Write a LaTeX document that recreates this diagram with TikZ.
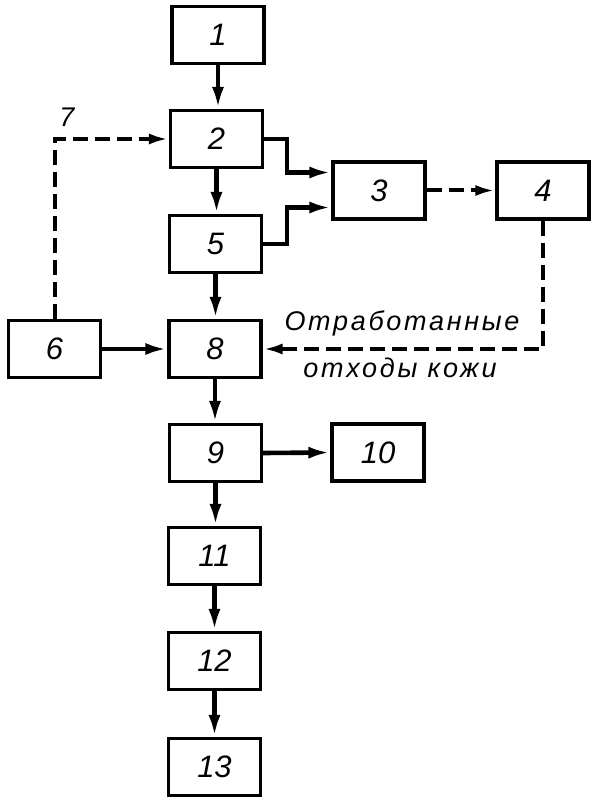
\documentclass[tikz,border=0pt]{standalone}
\usepackage{fontspec}
\setmainfont{Liberation Sans}
\usetikzlibrary{arrows.meta,calc}
\tikzset{
  blk/.style={draw, line width=3.2pt, minimum width=92pt, minimum height=57pt, inner sep=0pt, font=\fontsize{31}{33}\selectfont\itshape},
  flow/.style={line width=4.6pt, -{Latex[length=22pt,width=12pt]}},
  dflow/.style={line width=4pt, dash pattern=on 15pt off 7pt, -{Latex[length=20pt,width=11pt]}},
  lbl/.style={font=\fontsize{27}{29}\selectfont\itshape, inner sep=0pt}
}
\begin{document}
\begin{tikzpicture}[x=1pt,y=-1pt]
\useasboundingbox (0,0) rectangle (606,810);
\node[blk] (n1) at (218,35) {1};
\node[blk] (n2) at (216.5,139) {2};
\node[blk] (n5) at (215.5,244) {5};
\node[blk] (n3) at (379,190.5) {3};
\node[blk] (n4) at (543,190.5) {4};
\node[blk] (n6) at (54.5,349) {6};
\node[blk] (n8) at (215,349) {8};
\node[blk] (n9) at (215.5,453) {9};
\node[blk] (n10) at (378,452.5) {10};
\node[blk] (n11) at (214.5,556) {11};
\node[blk] (n12) at (214.5,661) {12};
\node[blk] (n13) at (214.5,767) {13};
\node[lbl] (l7) at (67,117) {7};
\node[lbl] (t1) at (402,323) {\addfontfeatures{LetterSpace=10}Отработанные};
\node[lbl] (t2) at (400,368) {\addfontfeatures{LetterSpace=10}отходы кожи};
\coordinate (j) at (287,0);
\draw[flow] (n1.south) -- (n1.south |- n2.north);
\draw[flow] (n2.south) -- (n2.south |- n5.north);
\draw[flow] (n5.south) -- (n5.south |- n8.north);
\draw[flow] (n8.south) -- (n8.south |- n9.north);
\draw[flow] (n9.south) -- (n9.south |- n11.north);
\draw[flow] (n11.south) -- (n11.south |- n12.north);
\draw[flow] (n12.south) -- (n12.south |- n13.north);
\draw[flow] (n2.east) -- (j |- n2.east) |- ($(n3.west)+(0,-18)$);
\draw[flow] (n5.east) -- (j |- n5.east) |- ($(n3.west)+(0,17)$);
\draw[dflow] (n3.east) -- (n4.west);
\draw[dflow] (n4.south) |- (n8.east);
\draw[dflow] (n6.north) |- (n2.west);
\draw[flow] (n6.east) -- (n8.west);
\draw[flow] (n9.east) -- (n10.west);
\end{tikzpicture}
\end{document}
